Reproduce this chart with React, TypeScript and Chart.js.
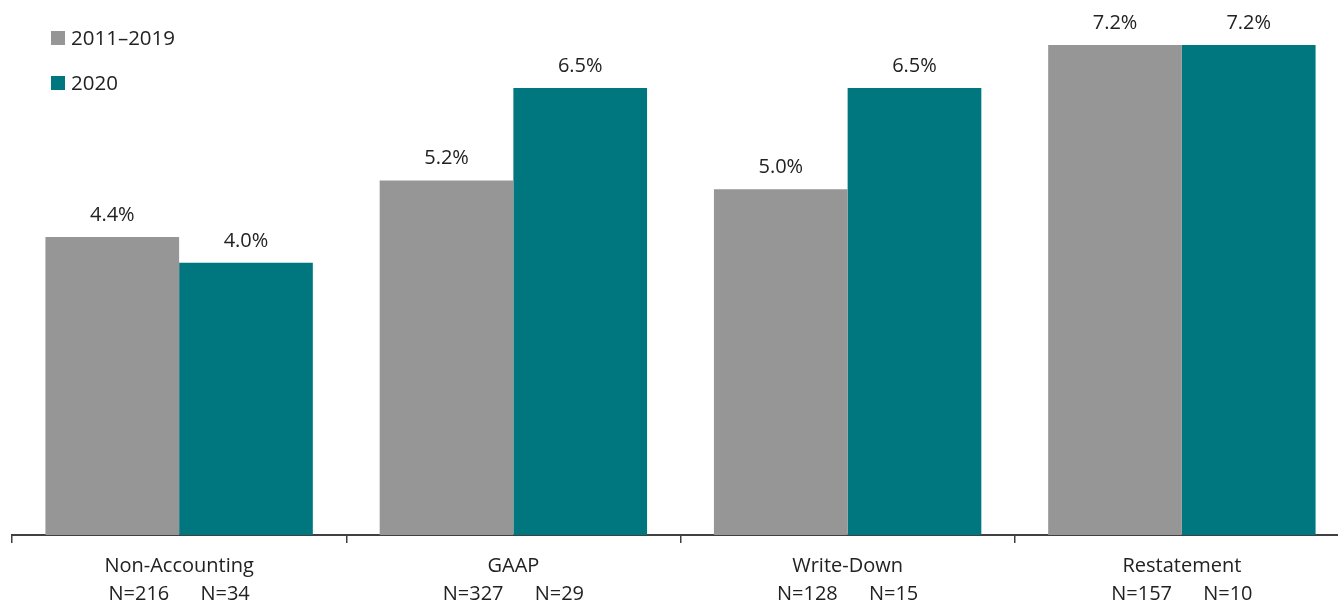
import React, { useEffect, useRef } from "react";
import { Chart, registerables } from "chart.js";

Chart.register(...registerables);

const categories: string[][] = [
  ["Non-Accounting", "N=216      N=34"],
  ["GAAP", "N=327      N=29"],
  ["Write-Down", "N=128      N=15"],
  ["Restatement", "N=157      N=10"],
];
const seriesNames = ["2011\u20132019", "2020"];
const values2011_2019 = [4.38, 5.21, 5.08, 7.2];
const values2020 = [4.0, 6.57, 6.57, 7.2];
const labels2011_2019 = ["4.4%", "5.2%", "5.0%", "7.2%"];
const labels2020 = ["4.0%", "6.5%", "6.5%", "7.2%"];
const colors = ["#969696", "#00767E"];

const FONT = "'Open Sans', 'Noto Sans', sans-serif";
const TEXT_COLOR = "#222222";

const valueLabelPlugin = {
  id: "valueLabels",
  afterDatasetsDraw(chart: any) {
    const ctx = chart.ctx;
    const allLabels = [labels2011_2019, labels2020];
    ctx.save();
    ctx.font = `20px ${FONT}`;
    ctx.fillStyle = TEXT_COLOR;
    ctx.textAlign = "center";
    ctx.textBaseline = "alphabetic";
    chart.data.datasets.forEach((_ds: any, di: number) => {
      const meta = chart.getDatasetMeta(di);
      meta.data.forEach((bar: any, i: number) => {
        ctx.fillText(allLabels[di][i], bar.x, bar.y - 16);
      });
    });
    ctx.restore();
  },
};

const legendPlugin = {
  id: "customLegend",
  afterDraw(chart: any) {
    const ctx = chart.ctx;
    ctx.save();
    ctx.font = `20.5px ${FONT}`;
    ctx.textAlign = "left";
    ctx.textBaseline = "alphabetic";
    chart.data.datasets.forEach((ds: any, i: number) => {
      const top = 31 + i * 45;
      ctx.fillStyle = ds.backgroundColor;
      ctx.fillRect(51, top, 14, 14);
      ctx.fillStyle = TEXT_COLOR;
      ctx.fillText(ds.label, 71, top + 14);
    });
    ctx.restore();
  },
};

export default function App() {
  const canvasRef = useRef<HTMLCanvasElement | null>(null);

  useEffect(() => {
    if (!canvasRef.current) return;
    const chart = new Chart(canvasRef.current, {
      type: "bar",
      data: {
        labels: categories,
        datasets: [
          {
            label: seriesNames[0],
            data: values2011_2019,
            backgroundColor: colors[0],
            categoryPercentage: 0.8,
            barPercentage: 1.0,
          },
          {
            label: seriesNames[1],
            data: values2020,
            backgroundColor: colors[1],
            categoryPercentage: 0.8,
            barPercentage: 1.0,
          },
        ],
      },
      options: {
        responsive: false,
        animation: false,
        layout: { padding: { left: 12, right: 0, top: 45, bottom: 0 } },
        plugins: {
          legend: { display: false },
          tooltip: { enabled: false },
        },
        scales: {
          x: {
            offset: true,
            border: { display: true, color: "#404040", width: 2 },
            grid: {
              display: true,
              offset: true,
              drawOnChartArea: false,
              drawTicks: true,
              tickLength: 8,
              color: "#404040",
              lineWidth: 1.5,
            },
            ticks: {
              color: TEXT_COLOR,
              padding: 9,
              font: { family: FONT, size: 20, lineHeight: 1.4 },
              maxRotation: 0,
              autoSkip: false,
            },
          },
          y: {
            display: false,
            min: 0,
            max: 7.2,
          },
        },
      },
      plugins: [valueLabelPlugin, legendPlugin],
    });
    return () => chart.destroy();
  }, []);

  return (
    <div
      style={{
        position: "fixed",
        left: 0,
        top: 0,
        width: 1338,
        height: 603,
        overflow: "hidden",
        background: "#fff",
      }}
    >
      <canvas ref={canvasRef} width={1349} height={617} style={{ display: "block" }} />
    </div>
  );
}
